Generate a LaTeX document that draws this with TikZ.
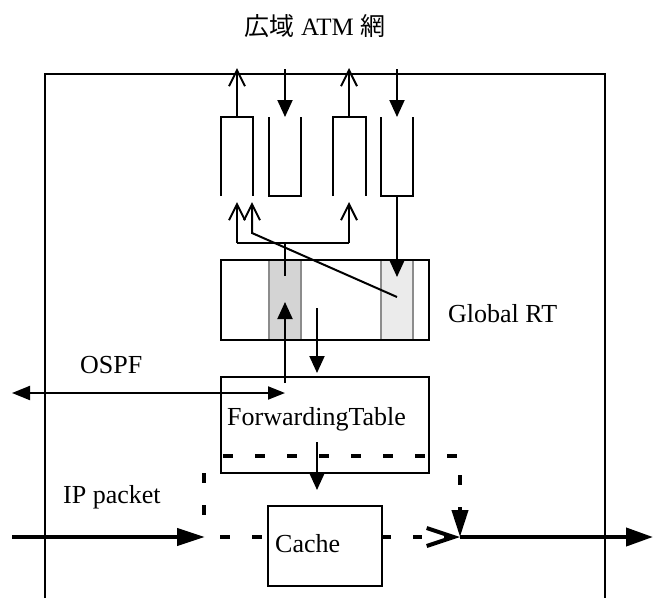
\documentclass[tikz,border=0pt]{standalone}
\usepackage{fontspec}
\setmainfont{Liberation Serif}
\newfontfamily\cjk{Noto Sans CJK JP}
\usetikzlibrary{arrows.meta}
\begin{document}
\begin{tikzpicture}[x=1pt,y=-1pt,
  ln/.style={line width=2pt},
  thk/.style={line width=4pt},
  tri/.style={-{Triangle[length=17pt,width=15pt]}},
  vee/.style={-{Straight Barb[length=16pt,width=16pt,line width=2pt]}},
  dsh/.style={line width=4pt, dash pattern=on 10pt off 22pt},
  lbl/.style={font=\fontsize{26}{30}\selectfont, inner sep=0pt, anchor=base west},
  boxs/.style={draw, line width=2pt, fill=white, outer sep=0pt, inner sep=0pt, anchor=north west},
]
\useasboundingbox (0,0) rectangle (659,598);
% frame
\draw[ln] (45,598) -- (45,74) -- (605,74) -- (605,598);
% title
\node[font=\fontsize{25}{30}\selectfont, inner sep=0pt, anchor=base] (title) at (315,35) {{\cjk 広域} ATM {\cjk 網}};
% queues
\draw[ln] (221,196) -- (221,117) -- (253,117) -- (253,196);
\draw[ln] (269,117) -- (269,196) -- (301,196) -- (301,117);
\draw[ln] (333,196) -- (333,117) -- (366,117) -- (366,196);
\draw[ln] (381,117) -- (381,196) -- (413,196) -- (413,117);
\coordinate (q1t) at (237,117); \coordinate (q1o) at (237,68);
\coordinate (q2i) at (285,69); \coordinate (q2t) at (285,117);
\coordinate (q3t) at (349,117); \coordinate (q3o) at (349,68);
\coordinate (q4i) at (397,69); \coordinate (q4t) at (397,117);
\draw[ln,vee] (q1t) -- (q1o);
\draw[ln,tri] (q2i) -- (q2t);
\draw[ln,vee] (q3t) -- (q3o);
\draw[ln,tri] (q4i) -- (q4t);
% global RT
\node[boxs, draw=none, minimum width=208pt, minimum height=80pt] (rt) at (221,260) {};
\fill[fill={rgb,255:red,212;green,212;blue,212}, draw={rgb,255:red,140;green,140;blue,140}, line width=2pt] (269,260) rectangle (301,340);
\fill[fill={rgb,255:red,235;green,235;blue,235}, draw={rgb,255:red,140;green,140;blue,140}, line width=2pt] (381,260) rectangle (413,340);
\draw[ln] (rt.north west) rectangle (rt.south east);
\node[lbl] (rtl) at (448,322) {Global RT};
% lower queue arrows
\coordinate (a1) at (237,243); \coordinate (a1t) at (237,202);
\coordinate (a3) at (349,243); \coordinate (a3t) at (349,202);
\coordinate (a2t) at (252,202); \coordinate (a2k) at (252,233); \coordinate (a2e) at (397,297);
\coordinate (mid) at (285,243); \coordinate (mide) at (285,276);
\draw[ln,vee] (a1) -- (a1t);
\draw[ln,vee] (a3) -- (a3t);
\draw[ln] (a1) -- (a3);
\draw[ln] (mid) -- (mide);
\draw[ln,vee] (a2e) -- (a2k) -- (a2t);
\coordinate (q4b) at (397,196); \coordinate (q4e) at (397,277);
\draw[ln,tri] (q4b) -- (q4e);
% forwarding table
\node[boxs, minimum width=208pt, minimum height=96pt] (ft) at (221,377) {};
\node[lbl] (ftl) at (227,425) {ForwardingTable};
\coordinate (ftu) at (285,383); \coordinate (ftue) at (285,302);
\draw[ln,tri] (ftu) -- (ftue);
\coordinate (rtd) at (317,308); \coordinate (rtde) at (317,373);
\draw[ln,tri] (rtd) -- (rtde);
% OSPF
\coordinate (os1) at (12,393); \coordinate (os2) at (285,393);
\draw[ln,{Triangle[length=18pt,width=14pt]}-{Triangle[length=17pt,width=13pt]}] (os1) -- (os2);
\node[lbl] (ospf) at (80,373) {OSPF};
% cache
\node[boxs, minimum width=114pt, minimum height=80pt] (cache) at (268,506) {};
\node[lbl] (cachel) at (275,552) {Cache};
\coordinate (ftd) at (317,442); \coordinate (ftde) at (317,490);
\draw[ln,tri] (ftd) -- (ftde);
% dashed paths
\coordinate (d1) at (223,456); \coordinate (d2) at (460,456); \coordinate (join) at (460,537);
\draw[dsh,-{Triangle[length=27pt,width=16pt]}] (d1) -- (d2) -- (join);
\coordinate (l1) at (204,473); \coordinate (l2) at (204,515);
\draw[dsh] (l1) -- (l2);
\coordinate (in) at (205,537); \coordinate (l3) at (220,537);
\draw[dsh] (l3) -- (cache.west |- l3);
\draw[line width=4pt, dash pattern=on 9pt off 22pt,-{Straight Barb[length=27pt,width=18pt,line width=4pt]}] (cache.east |- join) -- (join);
% IP packet
\coordinate (src) at (12,537);
\draw[thk,-{Triangle[length=28pt,width=17pt]}] (src) -- (in);
\node[lbl] (ipl) at (63,503) {IP packet};
\coordinate (out) at (653,537);
\draw[thk,-{Triangle[length=27pt,width=18pt]}] (join) -- (out);
\end{tikzpicture}
\end{document}
